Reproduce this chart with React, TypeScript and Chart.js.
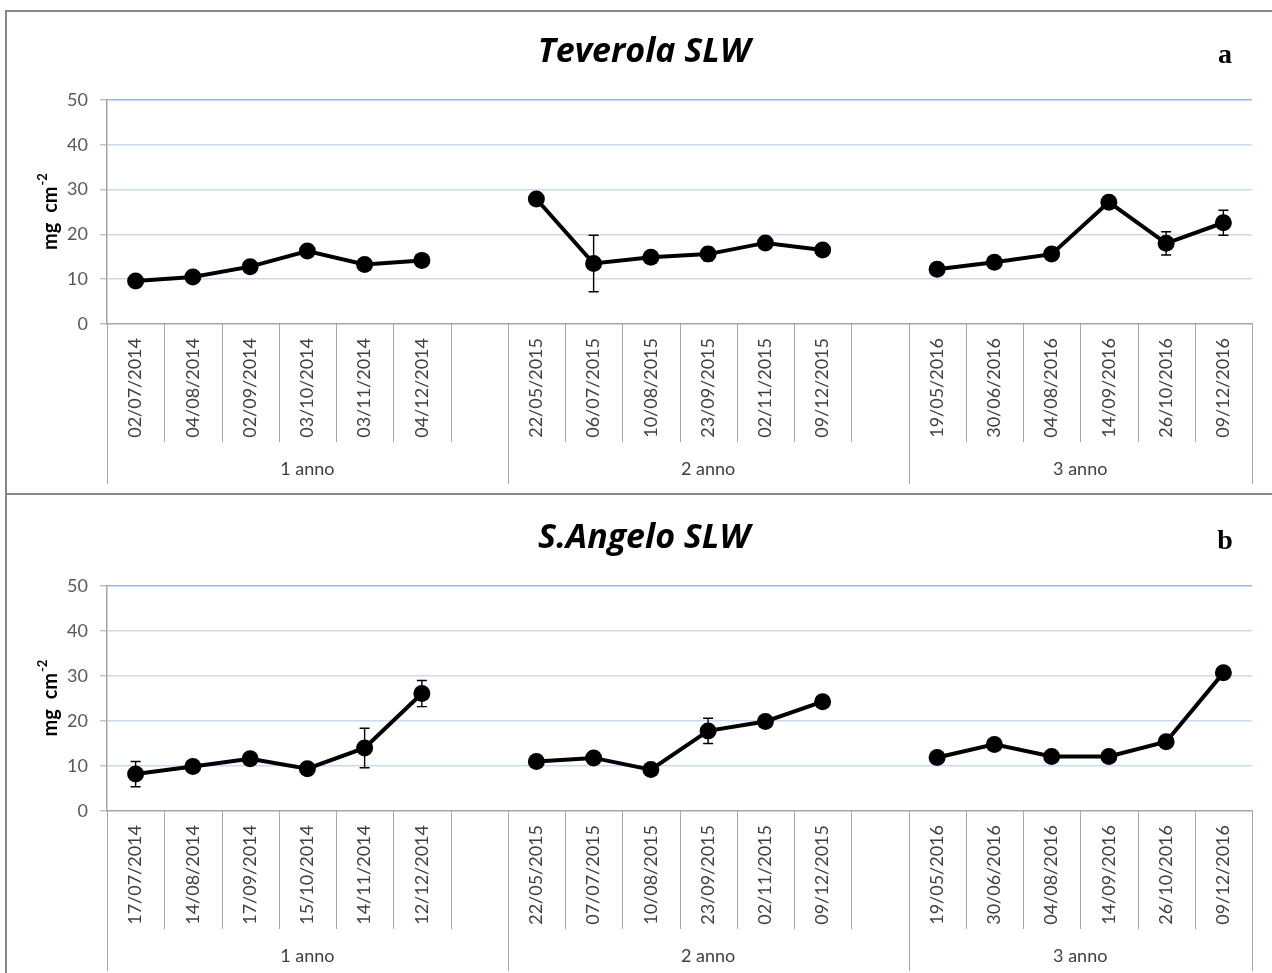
import React, { useEffect, useRef } from "react";
import { Chart, registerables } from "chart.js";

Chart.register(...registerables);

// ---- data ----
const yearGroups = ["1 anno", "2 anno", "3 anno"];
const yearGroupSizes = [7, 7, 6];
const yTickStep = 10;
const yMin = 0;
const yMax = 50;

const teverolaDates = [
  "02/07/2014", "04/08/2014", "02/09/2014", "03/10/2014", "03/11/2014", "04/12/2014", "",
  "22/05/2015", "06/07/2015", "10/08/2015", "23/09/2015", "02/11/2015", "09/12/2015", "",
  "19/05/2016", "30/06/2016", "04/08/2016", "14/09/2016", "26/10/2016", "09/12/2016",
];
const teverolaSLW = [
  9.6, 10.5, 12.8, 16.3, 13.3, 14.2, null,
  27.9, 13.5, 14.9, 15.6, 18.1, 16.5, null,
  12.2, 13.8, 15.6, 27.2, 18.0, 22.6,
];
const teverolaSE = [
  0, 0, 0, 0, 0, 0, null,
  0, 6.3, 0, 1.5, 0, 0, null,
  0, 0, 0, 0, 2.6, 2.8,
];

const santangeloDates = [
  "17/07/2014", "14/08/2014", "17/09/2014", "15/10/2014", "14/11/2014", "12/12/2014", "",
  "22/05/2015", "07/07/2015", "10/08/2015", "23/09/2015", "02/11/2015", "09/12/2015", "",
  "19/05/2016", "30/06/2016", "04/08/2016", "14/09/2016", "26/10/2016", "09/12/2016",
];
const santangeloSLW = [
  8.2, 9.9, 11.6, 9.4, 14.0, 26.1, null,
  11.0, 11.8, 9.2, 17.8, 19.9, 24.3, null,
  11.9, 14.8, 12.1, 12.1, 15.4, 30.7,
];
const santangeloSE = [
  2.8, 0, 0, 0, 4.4, 2.9, null,
  0, 0, 0, 2.8, 0, 0, null,
  0, 0, 0, 0, 0, 0,
];

// ---- styling ----
const SANS = "Lato, 'Noto Sans', sans-serif";
const TITLE_FONT = "'Open Sans', Lato, sans-serif";
const AXIS_GRAY = "#a6a6a6";
const TEXT_GRAY = "#404040";
const CANVAS_W = 1290;
const CANVAS_H = 486;
const TITLE_SIZE = 34;

type PanelProps = {
  title: string;
  letter: string;
  labels: string[];
  values: (number | null)[];
  errors: (number | null)[];
  top: number;
  height: number;
};

// vertical standard-error whiskers with caps
const errorBarsPlugin = {
  id: "errorBars",
  beforeDatasetsDraw(chart: any, _args: any, opts: any) {
    const errs: (number | null)[] = opts.errors || [];
    const vals: (number | null)[] = chart.data.datasets[0].data;
    const xs = chart.scales.x;
    const ys = chart.scales.y;
    const ctx = chart.ctx;
    ctx.save();
    ctx.strokeStyle = "#000";
    ctx.lineWidth = 1.4;
    vals.forEach((v, i) => {
      const e = errs[i];
      if (v == null || !e) return;
      const x = xs.getPixelForValue(i);
      const y1 = ys.getPixelForValue(v + e);
      const y2 = ys.getPixelForValue(v - e);
      ctx.beginPath();
      ctx.moveTo(x, y1);
      ctx.lineTo(x, y2);
      ctx.moveTo(x - 5, y1);
      ctx.lineTo(x + 5, y1);
      ctx.moveTo(x - 5, y2);
      ctx.lineTo(x + 5, y2);
      ctx.stroke();
    });
    ctx.restore();
  },
};

// category separators and the multi-level year labels under the date axis
const yearAxisPlugin = {
  id: "yearAxis",
  afterDraw(chart: any) {
    const xs = chart.scales.x;
    const ctx = chart.ctx;
    const n = chart.data.labels.length;
    const slot = xs.getPixelForValue(1) - xs.getPixelForValue(0);
    const edge = (i: number) => xs.getPixelForValue(0) - slot / 2 + i * slot;
    const base = chart.chartArea.bottom;
    const groupEdges = [0];
    yearGroupSizes.forEach((s) => groupEdges.push(groupEdges[groupEdges.length - 1] + s));
    ctx.save();
    ctx.strokeStyle = AXIS_GRAY;
    ctx.lineWidth = 1;
    for (let i = 0; i <= n; i++) {
      const isGroup = groupEdges.includes(i);
      const x = Math.round(edge(i)) + 0.5;
      ctx.beginPath();
      ctx.moveTo(x, base);
      ctx.lineTo(x, base + (isGroup ? 160 : 118));
      ctx.stroke();
    }
    ctx.fillStyle = TEXT_GRAY;
    ctx.font = `18px ${SANS}`;
    ctx.textAlign = "center";
    ctx.textBaseline = "middle";
    yearGroups.forEach((g, k) => {
      const cx = (edge(groupEdges[k]) + edge(groupEdges[k + 1])) / 2;
      ctx.fillText(g, cx, base + 145);
    });
    ctx.restore();
  },
};

// y-axis title with superscript exponent, and the panel letter
const decorPlugin = {
  id: "decor",
  afterDraw(chart: any, _args: any, opts: any) {
    const ctx = chart.ctx;
    const { top, bottom } = chart.chartArea;
    ctx.save();
    ctx.translate(50, (top + bottom) / 2);
    ctx.rotate(-Math.PI / 2);
    ctx.fillStyle = "#000";
    ctx.textBaseline = "alphabetic";
    const main = "mg  cm";
    ctx.font = `bold 20px ${SANS}`;
    const w1 = ctx.measureText(main).width;
    ctx.font = `bold 13px ${SANS}`;
    const w2 = ctx.measureText("-2").width;
    const start = -(w1 + w2) / 2;
    ctx.font = `bold 20px ${SANS}`;
    ctx.fillText(main, start, 7);
    ctx.font = `bold 13px ${SANS}`;
    ctx.fillText("-2", start + w1 + 1, -3);
    ctx.restore();

    ctx.save();
    ctx.fillStyle = "#000";
    ctx.font = "bold 28px 'Liberation Serif', 'DejaVu Serif', serif";
    ctx.textAlign = "center";
    ctx.textBaseline = "alphabetic";
    ctx.fillText(opts.letter, 1225, 63);
    ctx.restore();
  },
};

function Panel({ title, letter, labels, values, errors, top, height }: PanelProps) {
  const ref = useRef<HTMLCanvasElement | null>(null);

  useEffect(() => {
    if (!ref.current) return;
    const chart = new Chart(ref.current, {
      type: "line",
      data: {
        labels,
        datasets: [
          {
            data: values,
            borderColor: "#000",
            borderWidth: 4,
            pointRadius: 8.5,
            pointBackgroundColor: "#000",
            pointBorderColor: "#000",
            pointBorderWidth: 0,
            spanGaps: false,
            tension: 0,
          },
        ],
      },
      options: {
        animation: false,
        responsive: false,
        devicePixelRatio: 1,
        layout: { padding: { left: 36, right: 38, top: 0, bottom: 0 } },
        plugins: {
          legend: { display: false },
          tooltip: { enabled: false },
          title: {
            display: true,
            text: title,
            color: "#000",
            font: { family: TITLE_FONT, size: TITLE_SIZE, weight: "bold", style: "italic", lineHeight: 1.2 },
            padding: { top: 52 - TITLE_SIZE * 0.6, bottom: 100 - 52 - TITLE_SIZE * 0.6 },
          },
          errorBars: { errors },
          decor: { letter },
        } as any,
        scales: {
          x: {
            type: "category",
            offset: true,
            grid: { display: false, drawTicks: false },
            border: { display: true, color: AXIS_GRAY, width: 1.5 },
            ticks: {
              autoSkip: false,
              minRotation: 90,
              maxRotation: 90,
              padding: 14,
              color: TEXT_GRAY,
              font: { family: SANS, size: 18 },
            },
            afterFit: (s: any) => {
              s.height = 162;
            },
          },
          y: {
            min: yMin,
            max: yMax,
            ticks: {
              stepSize: yTickStep,
              padding: 12,
              color: "#595959",
              font: { family: SANS, size: 18 },
            },
            grid: {
              color: (c: any) =>
                c.tick && c.tick.value === yMax ? "#98b5e5" : c.tick && c.tick.value === yMin ? "rgba(0,0,0,0)" : "#cbd8ef",
              lineWidth: 1.6,
              tickLength: 7,
              tickColor: AXIS_GRAY,
              tickWidth: 1,
            },
            border: { display: true, color: AXIS_GRAY, width: 1.5 },
            afterFit: (s: any) => {
              s.width = 71;
            },
          },
        },
      } as any,
      plugins: [errorBarsPlugin, yearAxisPlugin, decorPlugin],
    });
    return () => chart.destroy();
  }, [title, letter, labels, values, errors]);

  return (
    <canvas
      ref={ref}
      width={CANVAS_W}
      height={height}
      style={{ position: "absolute", left: 0, top, width: CANVAS_W, height }}
    />
  );
}

export default function App() {
  const line = "#878787";
  return (
    <div
      style={{
        position: "fixed",
        left: 0,
        top: 0,
        width: 1272,
        height: 973,
        overflow: "hidden",
        background: "#fff",
      }}
    >
      <Panel
        title="Teverola SLW"
        letter="a"
        labels={teverolaDates}
        values={teverolaSLW}
        errors={teverolaSE}
        top={0}
        height={CANVAS_H}
      />
      <Panel
        title="S.Angelo SLW"
        letter="b"
        labels={santangeloDates}
        values={santangeloSLW}
        errors={santangeloSE}
        top={486}
        height={973 - 486}
      />
      <div style={{ position: "absolute", left: 5, top: 10, width: 1300, height: 2, background: line }} />
      <div style={{ position: "absolute", left: 5, top: 10, width: 2, height: 1000, background: line }} />
      <div style={{ position: "absolute", left: 5, top: 493, width: 1300, height: 2, background: line }} />
    </div>
  );
}
